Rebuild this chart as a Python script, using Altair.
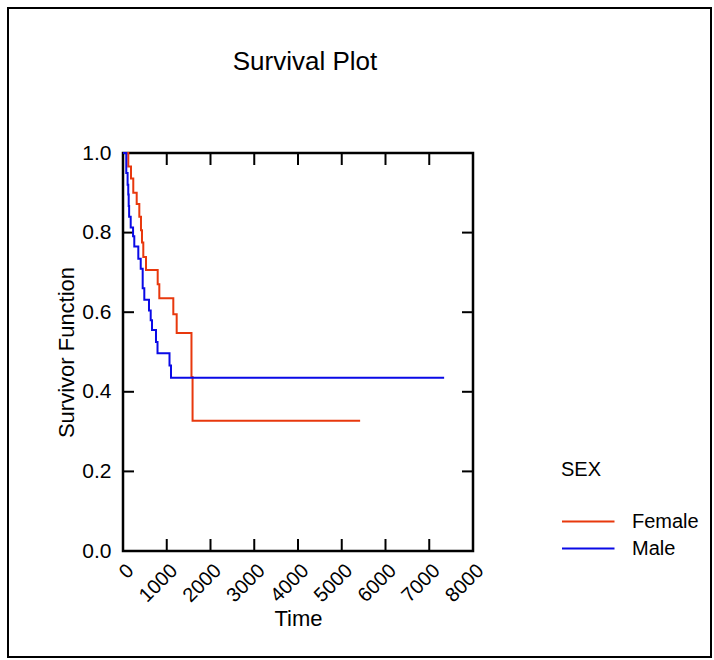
import altair as alt
import pandas as pd

# ---- data ----
groups = ["Female", "Male"]
colors = ["#E8380D", "#0A0AE6"]

female_time = [0, 121, 183, 235, 313, 373, 411, 434, 464, 526, 793, 830, 1150, 1227, 1565, 1590, 5420]
female_surv = [1.0, 0.966, 0.936, 0.900, 0.872, 0.840, 0.806, 0.775, 0.739, 0.706, 0.670, 0.635, 0.595, 0.548, 0.437, 0.327, 0.327]

male_time = [0, 75, 105, 120, 130, 140, 176, 230, 258, 350, 405, 450, 487, 594, 633, 663, 754, 789, 1063, 1097, 7340]
male_surv = [1.0, 0.950, 0.920, 0.896, 0.867, 0.840, 0.813, 0.791, 0.765, 0.734, 0.709, 0.660, 0.631, 0.604, 0.580, 0.555, 0.525, 0.497, 0.466, 0.435, 0.435]

x_ticks = [0, 1000, 2000, 3000, 4000, 5000, 6000, 7000, 8000]
y_ticks = [0.0, 0.2, 0.4, 0.6, 0.8, 1.0]
title_text = ["Survival Plot"]

FONT = "Liberation Sans"
W, H = 350, 398
LEFT, TOP = 123, 153

df = pd.concat([
    pd.DataFrame({"t": female_time, "s": female_surv, "SEX": groups[0]}),
    pd.DataFrame({"t": male_time, "s": male_surv, "SEX": groups[1]}),
], ignore_index=True)
xt = pd.DataFrame({"t": x_ticks})
yt = pd.DataFrame({"s": y_ticks})

xscale = alt.Scale(domain=[0, 8000], nice=False, zero=False)
yscale = alt.Scale(domain=[0, 1], nice=False)

xaxis = alt.Axis(
    values=x_ticks, format="d", title="Time", labelAngle=315, labelAlign="right",
    labelBaseline="top", labelPadding=9, ticks=False, domain=False, grid=False,
    labelFlush=False, labelOverlap=False, labelFont=FONT, labelFontSize=20,
    labelColor="black", titleFont=FONT, titleFontSize=22, titleFontWeight="normal",
    titleColor="black", titleY=74, titleBaseline="alphabetic")
yaxis = alt.Axis(
    values=y_ticks, format=".1f", title="Survivor Function", ticks=False, domain=False,
    grid=False, labelPadding=12, labelFlush=False, labelOverlap=False, labelFont=FONT,
    labelFontSize=21, labelColor="black", titleFont=FONT, titleFontSize=22,
    titleFontWeight="normal", titleColor="black", titleX=-50, titleBaseline="alphabetic")

X = alt.X("t:Q", scale=xscale, axis=xaxis)
Y = alt.Y("s:Q", scale=yscale, axis=yaxis)

lines = alt.Chart(df).mark_line(interpolate="step-after", strokeWidth=2).encode(
    x=X, y=Y,
    color=alt.Color("SEX:N", scale=alt.Scale(domain=groups, range=colors), legend=alt.Legend(
        orient="none", legendX=438, legendY=307, title="SEX", titleFont=FONT,
        titleFontSize=20, titleFontWeight="normal", titleColor="black", titlePadding=30,
        labelFont=FONT, labelFontSize=20, labelColor="black", symbolType="M-1,0H4",
        symbolSize=441, symbolStrokeWidth=2, labelOffset=48, rowPadding=5)),
)

tick_style = dict(color="black", strokeWidth=2)
xb = alt.Chart(xt).mark_rule(**tick_style).encode(x=X, y=alt.value(H), y2=alt.value(H - 12))
xtop = alt.Chart(xt).mark_rule(**tick_style).encode(x=X, y=alt.value(0), y2=alt.value(12))
yl = alt.Chart(yt).mark_rule(**tick_style).encode(y=Y, x=alt.value(0), x2=alt.value(11))
yr = alt.Chart(yt).mark_rule(**tick_style).encode(y=Y, x=alt.value(W), x2=alt.value(W - 11))

frame = alt.Chart(pd.DataFrame({"a": [0]})).mark_rect(filled=False, stroke="black", strokeWidth=2).encode(
    x=alt.value(8 - LEFT), x2=alt.value(711 - LEFT), y=alt.value(8 - TOP), y2=alt.value(657 - TOP))

title = alt.Chart(pd.DataFrame({"label": title_text})).mark_text(
    font=FONT, fontSize=26, color="black", baseline="middle", align="center").encode(
    text="label:N", x=alt.value(305 - LEFT), y=alt.value(62 - TOP))

chart = alt.layer(frame, xb, xtop, yl, yr, lines, title).properties(
    width=W, height=H,
    background="white",
    autosize=alt.AutoSizeParams(type="none"),
    padding={"left": LEFT, "top": TOP, "right": 714 - LEFT - W, "bottom": 660 - TOP - H},
).configure_view(stroke="black", strokeWidth=2.5)

chart.save("out.html", embed_options={"renderer": "svg", "actions": False})
